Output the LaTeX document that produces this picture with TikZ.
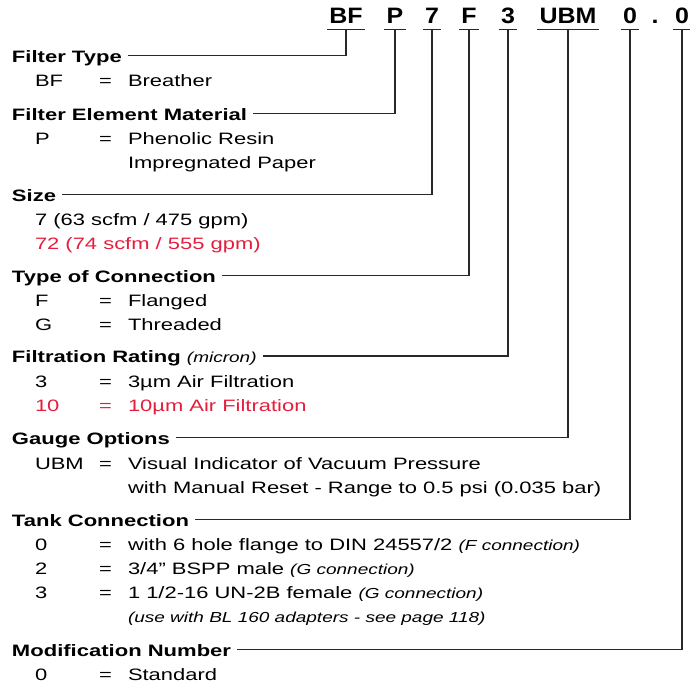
\documentclass[tikz,border=0pt]{standalone}
\usepackage{fontspec}
\setmainfont{Liberation Sans}[FakeStretch=1.33, BoldFeatures={FakeStretch=1.335}, ItalicFeatures={FakeStretch=1.31}]
\newfontfamily\codefont{Liberation Sans}[FakeStretch=1.12]
\definecolor{rred}{RGB}{228,30,60}
\definecolor{lineg}{RGB}{40,40,40}
\begin{document}
\begin{tikzpicture}[x=1pt,y=-1pt,
  hdr/.style={anchor=base west, inner sep=0pt, outer sep=0pt, font=\bfseries\fontsize{16.5}{18}\selectfont, text height=13pt, text depth=0pt},
  body/.style={anchor=base west, inner sep=0pt, outer sep=0pt, font=\fontsize{16.5}{18}\selectfont},
  note/.style={font=\itshape\fontsize{14.5}{16}\selectfont},
  codel/.style={anchor=base, inner xsep=2.5pt, inner ysep=0pt, outer sep=0pt, text height=16pt, text depth=6pt, font=\codefont\bfseries\fontsize{22.3}{24}\selectfont},
  uline/.style={draw=lineg, line width=1.3pt},
  conn/.style={draw=lineg, line width=1.3pt}
]
\useasboundingbox (0,0) rectangle (690,683);
% code letters
\node[codel] (cBF) at (346,23.5) {BF};
\node[codel] (cP) at (395,23.5) {P};
\node[codel] (c7) at (432,23.5) {7};
\node[codel] (cF) at (469,23.5) {F};
\node[codel] (c3) at (508,23.5) {3};
\node[codel] (cUBM) at (568,23.5) {UBM};
\node[codel] (c0) at (630,23.5) {0};
\node[codel] (cdot) at (655,23.5) {.};
\node[codel] (cM) at (682,23.5) {0};
\foreach \n in {cBF,cP,c7,cF,c3,cUBM,c0,cM}{
  \draw[uline] (\n.south west) -- (\n.south east);
}
% headers
\node[hdr] (hFT) at (12,62) {Filter Type};
\node[hdr] (hFM) at (12,120) {Filter Element Material};
\node[hdr] (hSZ) at (12,201) {Size};
\node[hdr] (hTC) at (12,282) {Type of Connection};
\node[hdr] (hFR) at (12,362.5) {Filtration Rating {\mdseries\itshape\fontsize{14.5}{16}\selectfont(micron)}};
\node[hdr] (hGO) at (12,444) {Gauge Options};
\node[hdr] (hTK) at (12,526) {Tank Connection};
\node[hdr] (hMN) at (12,656) {Modification Number};
% connectors
\draw[conn] ([xshift=6pt]hFT.east) -| (cBF.south);
\draw[conn] ([xshift=6pt]hFM.east) -| (cP.south);
\draw[conn] ([xshift=6pt]hSZ.east) -| (c7.south);
\draw[conn] ([xshift=6pt]hTC.east) -| (cF.south);
\draw[conn] ([xshift=6pt]hFR.east) -| (c3.south);
\draw[conn] ([xshift=6pt]hGO.east) -| (cUBM.south);
\draw[conn] ([xshift=6pt]hTK.east) -| (c0.south);
\draw[conn] ([xshift=6pt]hMN.east) -| (cM.south);
% Filter type
\node[body] (a1) at (35,86.5) {BF};
\node[body] (a2) at (99,86.5) {=};
\node[body] (a3) at (128,86.5) {Breather};
% Filter element
\node[body] (b1) at (35,144.5) {P};
\node[body] (b2) at (99,144.5) {=};
\node[body] (b3) at (128,144.5) {Phenolic Resin};
\node[body] (b4) at (128,168.5) {Impregnated Paper};
% Size
\node[body] (s1) at (35,225) {7 (63 scfm / 475 gpm)};
\node[body, text=rred] (s2) at (35,249) {72 (74 scfm / 555 gpm)};
% Type of connection
\node[body] (t1) at (35,306.5) {F};
\node[body] (t2) at (99,306.5) {=};
\node[body] (t3) at (128,306.5) {Flanged};
\node[body] (t4) at (35,330.5) {G};
\node[body] (t5) at (99,330.5) {=};
\node[body] (t6) at (128,330.5) {Threaded};
% Filtration rating
\node[body] (f1) at (35,387) {3};
\node[body] (f2) at (99,387) {=};
\node[body] (f3) at (128,387) {3µm Air Filtration};
\node[body, text=rred] (f4) at (35,411) {10};
\node[body, text=rred] (f5) at (99,411) {=};
\node[body, text=rred] (f6) at (128,411) {10µm Air Filtration};
% Gauge
\node[body] (g1) at (35,469) {UBM};
\node[body] (g2) at (99,469) {=};
\node[body] (g3) at (128,469) {Visual Indicator of Vacuum Pressure};
\node[body] (g4) at (128,493) {with Manual Reset - Range to 0.5 psi (0.035 bar)};
% Tank connection
\node[body] (k1) at (35,550.5) {0};
\node[body] (k2) at (99,550.5) {=};
\node[body] (k3) at (128,550.5) {with 6 hole flange to DIN 24557/2 {\itshape\fontsize{14.5}{16}\selectfont(F connection)}};
\node[body] (k4) at (35,574.5) {2};
\node[body] (k5) at (99,574.5) {=};
\node[body] (k6) at (128,574.5) {3/4” BSPP male {\itshape\fontsize{14.5}{16}\selectfont(G connection)}};
\node[body] (k7) at (35,598.5) {3};
\node[body] (k8) at (99,598.5) {=};
\node[body] (k9) at (128,598.5) {1 1/2-16 UN-2B female {\itshape\fontsize{14.5}{16}\selectfont(G connection)}};
\node[body, note] (k10) at (128,622) {(use with BL 160 adapters - see page 118)};
% Modification
\node[body] (m1) at (35,680) {0};
\node[body] (m2) at (99,680) {=};
\node[body] (m3) at (128,680) {Standard};
\end{tikzpicture}
\end{document}
